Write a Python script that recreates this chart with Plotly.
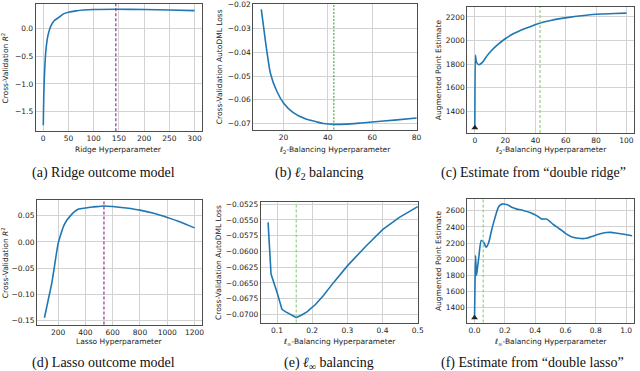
import plotly.graph_objects as go

# ---------------- data ----------------
ridge_x = [0.1, 1, 2, 3, 5, 7, 9.4, 12, 15.7, 22, 31.5, 40, 50, 65, 80, 100, 145, 200, 250, 300]
ridge_y = [-1.75, -1.25, -0.95, -0.72, -0.42, -0.25, -0.12, -0.03, 0.06, 0.15, 0.21, 0.27, 0.30, 0.325, 0.34, 0.35, 0.355, 0.35, 0.34, 0.33]
ridge_best = 144

l2_x = [10, 11.9, 14.1, 17, 20, 24.4, 30.4, 34.8, 38, 43, 48, 55, 60, 70, 80]
l2_y = [-0.022, -0.0355, -0.0488, -0.0564, -0.0613, -0.0654, -0.0682, -0.0692, -0.0699, -0.0703,
        -0.0702, -0.0697, -0.0693, -0.0685, -0.0676]
l2_best = 42.7

dr_x = [0, 0.4, 1.0, 2.5, 5, 8, 11, 14.5, 20, 25, 30, 35, 42, 50, 62, 72, 83, 92, 100]
dr_y = [1265, 1876, 1820, 1795, 1815, 1870, 1915, 1958, 2015, 2055, 2085, 2110, 2145, 2170, 2196, 2212, 2224, 2229, 2232]
dr_best = 43
dr_base = 1262

lasso_x = [100, 130, 155, 180, 200, 220, 241, 265, 290, 320, 351, 400, 450, 500, 536, 600, 700, 800, 900, 1000, 1100, 1200]
lasso_y = [-0.145, -0.108, -0.077, -0.035, -0.003, 0.015, 0.031, 0.042, 0.05, 0.058, 0.063, 0.065, 0.067,
           0.068, 0.069, 0.068, 0.065, 0.061, 0.055, 0.047, 0.038, 0.027]
lasso_best = 536

linf_x = [0.0746, 0.083, 0.1, 0.114, 0.125, 0.1377, 0.1546, 0.17, 0.185, 0.21, 0.232, 0.26, 0.3, 0.354, 0.401, 0.448, 0.5]
linf_y = [-0.0554, -0.0636, -0.0665, -0.0692, -0.0696, -0.0700, -0.0705, -0.0701, -0.0696, -0.0684, -0.0670,
          -0.0650, -0.0623, -0.0591, -0.0565, -0.0546, -0.0529]
linf_best = 0.1546

dl_x = [0, 0.003, 0.0065, 0.013, 0.02, 0.028, 0.044, 0.06, 0.076, 0.094, 0.11, 0.126, 0.145, 0.159, 0.18,
        0.218, 0.25, 0.279, 0.32, 0.366, 0.41, 0.442, 0.475, 0.52, 0.562, 0.6, 0.649, 0.7, 0.736, 0.78,
        0.824, 0.87, 0.9, 0.94, 0.976, 1.04]
dl_y = [1283, 1700, 2044, 1797, 1900, 2023, 2230, 2209, 2147, 2209, 2340, 2456, 2580, 2650, 2683, 2674,
        2640, 2621, 2605, 2580, 2540, 2498, 2498, 2430, 2374, 2320, 2270, 2255, 2258, 2285, 2312, 2330,
        2332, 2322, 2312, 2291]
dl_best = 0.057
dl_base = 1270

# ---------------- layout helpers ----------------
W, H = 640, 371
BLUE = "#1f77b4"
PURPLE = "#8b1a8b"
GREEN_DARK = "#3aa53a"
GREEN_LIGHT = "#86cc7a"
TICKFONT = dict(family="DejaVu Sans", size=7.5, color="#222")
TITLEFONT = dict(family="DejaVu Sans", size=7.5, color="#222")
CAPFONT = dict(family="Liberation Serif", size=14, color="#111")

panels = [
    dict(x=ridge_x, y=ridge_y, best=ridge_best, vcol=PURPLE, vdash="3px,2px", box=(36, 2, 204, 130),
         xr=[-15, 315], yr=[-1.86, 0.45], dx=50, dy=0.5, yfmt=".1f", xfmt="d", base=None, shape="spline"),
    dict(x=l2_x, y=l2_y, best=l2_best, vcol=GREEN_DARK, vdash="2px,1.5px", box=(255.7, 1.7, 421, 128.3),
         xr=[6.4, 80.2], yr=[-0.0725, -0.0196], dx=20, dy=0.01, yfmt=".2f", xfmt="d", base=None, shape="spline"),
    dict(x=dr_x, y=dr_y, best=dr_best, vcol=GREEN_LIGHT, vdash="3px,2px", box=(471.7, 5, 640, 131.7),
         xr=[-5, 105], yr=[1217, 2284], dx=20, dy=200, yfmt="d", xfmt="d", base=dr_base, shape="spline"),
    dict(x=lasso_x, y=lasso_y, best=lasso_best, vcol=PURPLE, vdash="3px,2px", box=(37.3, 199, 204, 324.3),
         xr=[45, 1255], yr=[-0.158, 0.0805], dx=200, dy=0.05, yfmt=".2f", xfmt="d", base=None, shape="spline"),
    dict(x=linf_x, y=linf_y, best=linf_best, vcol=GREEN_LIGHT, vdash="3px,2px", box=(263.3, 200.7, 422, 322.3),
         xr=[0.054, 0.501], yr=[-0.0713, -0.0521], dx=0.1, dy=0.0025, yfmt=".4f", xfmt=".1f", base=None,
         shape="linear"),
    dict(x=dl_x, y=dl_y, best=dl_best, vcol=GREEN_LIGHT, vdash="3px,2px", box=(471.7, 198.3, 640, 322.3),
         xr=[-0.048, 1.052], yr=[1211, 2744], dx=0.2, dy=200, yfmt="d", xfmt=".1f", base=dl_base, shape="spline"),
]

xtitles = ["Ridge Hyperparameter", "<i>ℓ</i><sub>2</sub>-Balancing Hyperparameter",
           "<i>ℓ</i><sub>2</sub>-Balancing Hyperparameter", "Lasso Hyperparameter",
           "<i>ℓ</i><sub>∞</sub>-Balancing Hyperparameter", "<i>ℓ</i><sub>∞</sub>-Balancing Hyperparameter"]
ytitles = ["Cross-Validation <i>R</i><sup>2</sup>", "Cross-Validation AutoDML Loss", "Augmented Point Estimate",
           "Cross-Validation <i>R</i><sup>2</sup>", "Cross-Validation AutoDML Loss", "Augmented Point Estimate"]
ytitle_x = [5, 221.7, 443.3, 5, 220, 443.3]
xtitle_y = [148.5, 148.5, 148.5, 341.5, 341.5, 341.5]
captions = ["(a) Ridge outcome model", "(b) <i>ℓ</i><sub>2</sub> balancing", "(c) Estimate from “double ridge”",
            "(d) Lasso outcome model", "(e) <i>ℓ</i><sub>∞</sub> balancing", "(f) Estimate from “double lasso”"]
cap_pos = [(104.7, 172), (323, 172), (539, 172), (104, 363), (331.7, 363), (537.5, 363)]

fig = go.Figure()
layout = dict(width=W, height=H, margin=dict(l=0, r=0, t=0, b=0), paper_bgcolor="white",
              plot_bgcolor="white", showlegend=False)
annotations = []
shapes = []

for i, p in enumerate(panels):
    n = "" if i == 0 else str(i + 1)
    xa, ya = "x" + n, "y" + n
    l, t, r, b = p["box"]
    axis_common = dict(showgrid=True, gridcolor="#d3d3d3", gridwidth=1, showline=True, linecolor="#4d4d4d",
                       linewidth=1, mirror=True, ticks="", tickfont=TICKFONT, zeroline=False, tick0=0)
    layout["xaxis" + n] = dict(domain=[l / W, r / W], anchor=ya, range=p["xr"], dtick=p["dx"],
                               tickformat=p["xfmt"], **axis_common)
    layout["yaxis" + n] = dict(domain=[1 - b / H, 1 - t / H], anchor=xa, range=p["yr"], dtick=p["dy"],
                               tickformat=p["yfmt"], **axis_common)

    fig.add_trace(go.Scatter(x=p["x"], y=p["y"], mode="lines", xaxis=xa, yaxis=ya,
                             line=dict(color=BLUE, width=1.6, shape=p["shape"], smoothing=0.6)))
    if p["base"] is not None:
        fig.add_trace(go.Scatter(x=[0], y=[p["base"]], mode="markers", xaxis=xa, yaxis=ya,
                                 marker=dict(symbol="triangle-up", size=6, color="#222")))
    shapes.append(dict(type="line", xref=xa, yref=ya + " domain", x0=p["best"], x1=p["best"], y0=0, y1=1,
                       line=dict(color=p["vcol"], width=1.1, dash=p["vdash"])))

    annotations.append(dict(text=xtitles[i], x=(l + r) / 2 / W, y=1 - xtitle_y[i] / H, xref="paper",
                            yref="paper", showarrow=False, font=TITLEFONT, xanchor="center", yanchor="middle"))
    annotations.append(dict(text=ytitles[i], x=ytitle_x[i] / W, y=1 - ((t + b) / 2) / H, xref="paper",
                            yref="paper", showarrow=False, font=TITLEFONT, textangle=-90,
                            xanchor="center", yanchor="middle"))
    cx, cy = cap_pos[i]
    annotations.append(dict(text=captions[i], x=cx / W, y=1 - cy / H, xref="paper", yref="paper",
                            showarrow=False, font=CAPFONT, xanchor="center", yanchor="middle"))

layout["annotations"] = annotations
layout["shapes"] = shapes
fig.update_layout(**layout)
fig.write_html("out.html", config={"displayModeBar": False},
               post_script="document.body.style.margin='0';document.body.style.overflow='hidden';")
